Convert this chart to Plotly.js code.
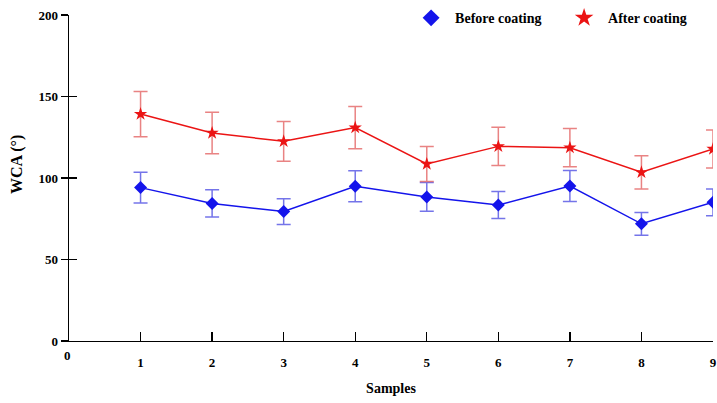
<!DOCTYPE html>
<html>
<head>
<meta charset="utf-8">
<script src="https://cdn.plot.ly/plotly-3.0.1.min.js"></script>
<style>html,body{margin:0;padding:0;background:#fff;}#chart{width:717px;height:403px;}</style>
</head>
<body>
<div id="chart"></div>
<script>
const samples = [1, 2, 3, 4, 5, 6, 7, 8, 9];
const beforeCoating = [94.1, 84.4, 79.4, 94.9, 88.4, 83.4, 95.1, 71.9, 85.1];
const beforeErr = [9.5, 8.4, 7.9, 9.5, 8.8, 8.3, 9.5, 7.0, 8.2];
const afterCoating = [139.2, 127.6, 122.5, 130.9, 108.6, 119.4, 118.6, 103.5, 117.8];
const afterErr = [13.9, 12.7, 12.2, 13.0, 10.8, 11.8, 11.7, 10.2, 11.6];
const xTickLabels = ['1', '2', '3', '4', '5', '6', '7', '8', '9'];
const yTickVals = [0, 50, 100, 150, 200];

const serif = 'Liberation Serif, Times New Roman, serif';
const blue = 'rgb(20,20,235)';
const red = 'rgb(235,20,20)';

const traces = [
  {
    x: samples, y: beforeCoating, type: 'scatter', mode: 'lines+markers', name: 'Before coating',
    showlegend: false,
    line: {color: blue, width: 1.5},
    marker: {symbol: 'diamond', size: 10, color: blue},
    error_y: {type: 'data', array: beforeErr, visible: true, color: 'rgba(70,70,225,0.75)', thickness: 1.5, width: 7}
  },
  {
    x: samples, y: afterCoating, type: 'scatter', mode: 'lines+markers', name: 'After coating',
    showlegend: false,
    line: {color: red, width: 1.5},
    marker: {symbol: 'star', size: 10, color: red},
    error_y: {type: 'data', array: afterErr, visible: true, color: 'rgba(225,90,90,0.75)', thickness: 1.5, width: 7}
  },
  {
    x: [null], y: [null], type: 'scatter', mode: 'markers', name: 'Before coating',
    marker: {symbol: 'diamond', size: 13, color: blue}
  },
  {
    x: [null], y: [null], type: 'scatter', mode: 'markers', name: 'After coating',
    marker: {symbol: 'star', size: 14, color: red}
  },
  {x: [null], y: [null], yaxis: 'y2', type: 'scatter', mode: 'markers', showlegend: false, hoverinfo: 'skip'}
];

const layout = {
  width: 717, height: 403,
  margin: {l: 69, r: 4, t: 15, b: 62, autoexpand: false},
  paper_bgcolor: '#fff', plot_bgcolor: '#fff',
  font: {family: serif, size: 13, color: '#000', weight: 'bold'},
  showlegend: true,
  legend: {
    orientation: 'h', x: 0.525, y: 0.99, xanchor: 'left', yanchor: 'middle',
    font: {family: serif, size: 14, color: '#000', weight: 'bold'},
    itemwidth: 38, entrywidth: 100, bgcolor: 'rgba(0,0,0,0)'
  },
  xaxis: {
    range: [0, 9], tickvals: samples, ticktext: xTickLabels,
    showgrid: false, zeroline: false, showline: true, linecolor: '#000', linewidth: 1.3,
    ticks: 'inside', ticklen: 9, tickwidth: 1.3, tickcolor: '#000',
    ticklabelstandoff: 9,
    tickfont: {family: serif, size: 13, color: '#000', weight: 'bold'},
    title: {text: 'Samples', font: {family: serif, size: 14, color: '#000', weight: 'bold'}, standoff: 14}
  },
  yaxis: {
    range: [0, 200], tickvals: yTickVals,
    showgrid: false, zeroline: false, showline: true, linecolor: '#000', linewidth: 1.3,
    ticks: 'outside', ticklen: 7, tickwidth: 1.3, tickcolor: '#000',
    ticklabelstandoff: 0,
    tickfont: {family: serif, size: 13, color: '#000', weight: 'bold'}
  },
  yaxis2: {
    range: [0, 200], tickvals: yTickVals, overlaying: 'y', side: 'left',
    showgrid: false, zeroline: false, showline: false, showticklabels: false,
    ticks: 'inside', ticklen: 8, tickwidth: 1.3, tickcolor: '#000'
  },
  annotations: [
    {text: '0', xref: 'x', x: 0, yref: 'paper', y: 0, yshift: -24, xshift: -2, showarrow: false,
     font: {family: serif, size: 13, color: '#000', weight: 'bold'}},
    {text: 'WCA (°)', xref: 'paper', x: -0.0807, yref: 'paper', y: 0.54, textangle: -90,
     showarrow: false, xanchor: 'center', yanchor: 'middle',
     font: {family: serif, size: 16, color: '#000', weight: 'bold'}}
  ]
};

Plotly.newPlot('chart', traces, layout, {displayModeBar: false, staticPlot: true});
</script>
</body>
</html>
